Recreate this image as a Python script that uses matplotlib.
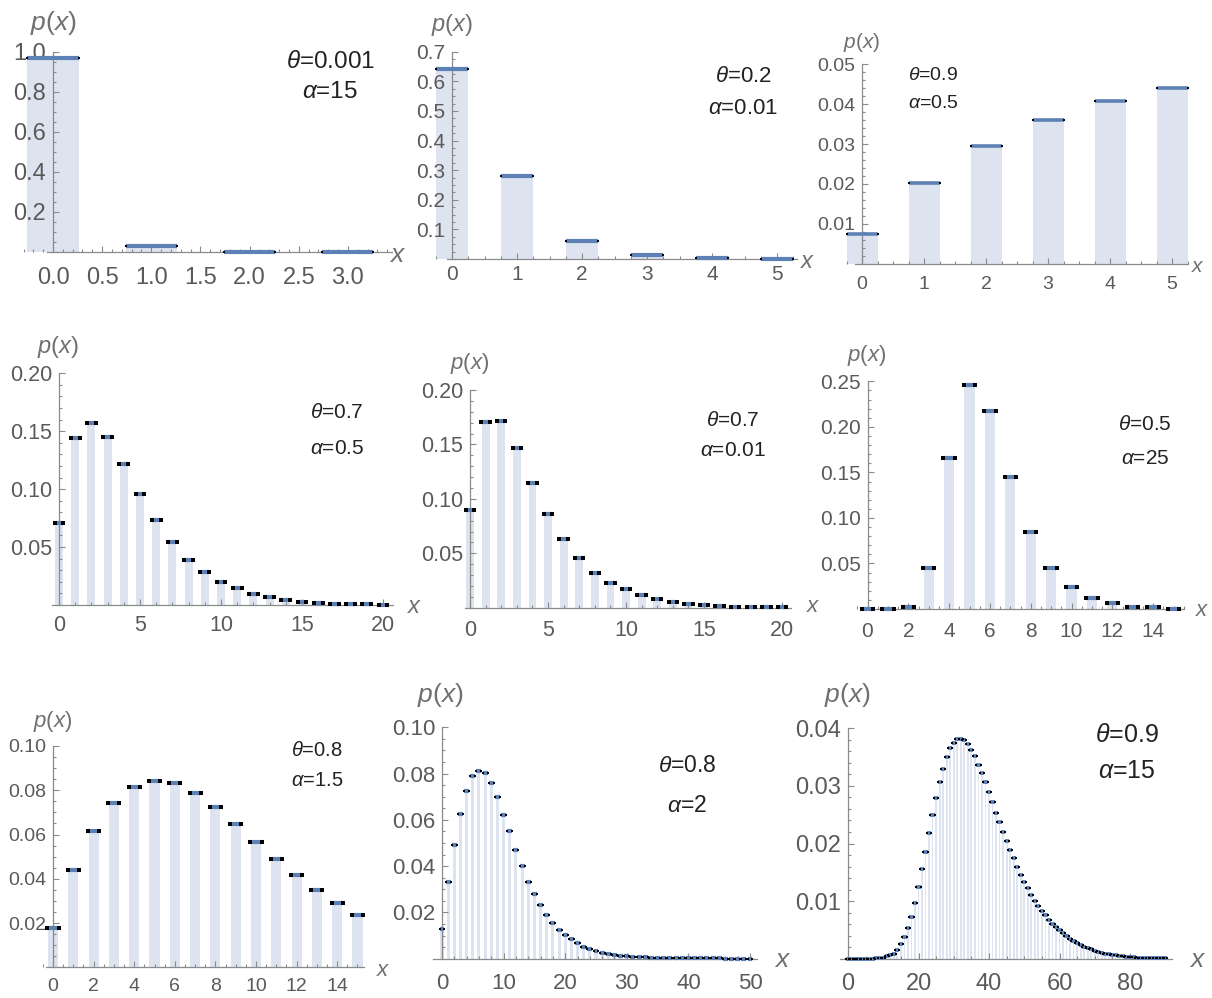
import numpy as np
import matplotlib
matplotlib.use('Agg')
import matplotlib.pyplot as plt
from matplotlib.ticker import FixedLocator, AutoMinorLocator, FormatStrFormatter

plt.rcParams['font.family'] = ['Liberation Sans', 'DejaVu Sans']
plt.rcParams['mathtext.fontset'] = 'custom'
plt.rcParams['mathtext.rm'] = 'Liberation Sans'
plt.rcParams['mathtext.it'] = 'Liberation Sans:italic'

# ---- data ----
p1_y = [0.968, 0.030, 0.0012, 0.0002]
p2_y = [0.642, 0.281, 0.062, 0.0125, 0.003, 0.001]
p3_y = [0.0075, 0.0203, 0.0294, 0.0360, 0.0408, 0.0439]
p4_y = [0.0705, 0.1439, 0.1574, 0.1447, 0.1217, 0.0961, 0.0731, 0.0547, 0.0391, 0.0282,
        0.0199, 0.0144, 0.0098, 0.0066, 0.0046, 0.0029, 0.0017, 0.0012, 0.0009, 0.0005, 0.0003]
p5_y = [0.0894, 0.1703, 0.1712, 0.1464, 0.1149, 0.0864, 0.0631, 0.0456, 0.0322, 0.0230,
        0.0168, 0.0113, 0.0077, 0.0055, 0.0034, 0.0025, 0.0014, 0.0011, 0.0007, 0.0006, 0.0005]
p6_y = [0.0002, 0.0002, 0.0026, 0.0454, 0.1662, 0.2463, 0.2174, 0.1453, 0.0846, 0.0454,
        0.0238, 0.0121, 0.0062, 0.0026, 0.0018, 0.0004]
p7_y = [0.0176, 0.0440, 0.0617, 0.0741, 0.0813, 0.0843, 0.0831, 0.0789, 0.0726, 0.0649,
        0.0568, 0.0489, 0.0417, 0.0349, 0.0291, 0.0238]
p8_y = [0.0130, 0.0333, 0.0493, 0.0627, 0.0726, 0.0789, 0.0811, 0.0801, 0.0761, 0.0697,
        0.0622, 0.0550, 0.0470, 0.0402, 0.0333, 0.0281, 0.0230, 0.0190, 0.0153, 0.0122,
        0.0101, 0.0084, 0.0066, 0.0052, 0.0042, 0.0032, 0.0026, 0.0020, 0.0016, 0.0013,
        0.0010, 0.0008, 0.0007, 0.0006, 0.0005, 0.0004, 0.0003, 0.0003, 0.0002, 0.0002,
        0.0002, 0.0001, 0.0001, 0.0001, 0.0001, 0.0001, 0.0, 0.0, 0.0, 0.0, 0.0]
p9_y = [0.0, 0.0, 0.0, 0.0, 0.0, 0.0, 0.0, 0.0, 0.0001, 0.0001,
        0.0002, 0.0004, 0.0006, 0.0009, 0.0015, 0.0025, 0.0037, 0.0054, 0.0072, 0.0097,
        0.0124, 0.0155, 0.0185, 0.0218, 0.0249, 0.0279, 0.0307, 0.0330, 0.0350, 0.0366,
        0.0375, 0.0381, 0.0382, 0.0380, 0.0373, 0.0363, 0.0352, 0.0337, 0.0323, 0.0306,
        0.0289, 0.0272, 0.0253, 0.0237, 0.0220, 0.0204, 0.0188, 0.0174, 0.0160, 0.0145,
        0.0133, 0.0122, 0.0111, 0.0101, 0.0091, 0.0083, 0.0076, 0.0068, 0.0061, 0.0055,
        0.0050, 0.0044, 0.0039, 0.0035, 0.0031, 0.0028, 0.0024, 0.0021, 0.0019, 0.0016,
        0.0014, 0.0012, 0.0010, 0.0009, 0.0008, 0.0006, 0.0006, 0.0005, 0.0004, 0.0003,
        0.0003, 0.0003, 0.0002, 0.0002, 0.0002, 0.0002, 0.0001, 0.0001, 0.0001, 0.0001, 0.0001]

thetas = ['0.001', '0.2', '0.9', '0.7', '0.7', '0.5', '0.8', '0.8', '0.9']
alphas = ['15', '0.01', '0.5', '0.5', '0.01', '25', '1.5', '2', '15']
series = [p1_y, p2_y, p3_y, p4_y, p5_y, p6_y, p7_y, p8_y, p9_y]

xticks = [[0, 0.5, 1, 1.5, 2, 2.5, 3], range(6), range(6), range(0, 21, 5), range(0, 21, 5),
          range(0, 15, 2), range(0, 15, 2), range(0, 51, 10), range(0, 81, 20)]
yticks = [[0.2, 0.4, 0.6, 0.8, 1.0], [0.1, 0.2, 0.3, 0.4, 0.5, 0.6, 0.7],
          [0.01, 0.02, 0.03, 0.04, 0.05], [0.05, 0.10, 0.15, 0.20], [0.05, 0.10, 0.15, 0.20],
          [0.05, 0.10, 0.15, 0.20, 0.25], [0.02, 0.04, 0.06, 0.08, 0.10],
          [0.02, 0.04, 0.06, 0.08, 0.10], [0.01, 0.02, 0.03, 0.04]]

# ---- layout (pixels of the 1212x998 image) ----
W, H = 1212, 998
layout = [
    dict(px0=53, sx=98.3, py0=252, sy=200, xlim=(-0.3, 3.45), ylim=(0, 1.0), ax0=-0.06, xfmt='%.1f', yfmt='%.1f',
         tfs=17, xpad=11, afs=17.5, th=(330, 62), al=(330, 92), pl=(53, 23), xl=(398, 255), lfs=19,
         w=0.52, cw=0.52, ms=2.0, clw=3.0, minx=5, miny=4),
    dict(px0=452, sx=65, py0=259, sy=296, xlim=(-0.3, 5.3), ylim=(0, 0.7), ax0=-0.08, xfmt='%d', yfmt='%.1f',
         tfs=15, xpad=4, afs=16, th=(743, 77), al=(743, 109), pl=(452, 25), xl=(808, 262), lfs=17,
         w=0.5, cw=0.5, ms=2.0, clw=3.0, minx=4, miny=4),
    dict(px0=862, sx=62, py0=264, sy=4000, xlim=(-0.3, 5.25), ylim=(0, 0.05), ax0=-0.11, xfmt='%d', yfmt='%.2f',
         tfs=14, xpad=8.5, afs=14, th=(933, 76), al=(933, 104), pl=(862, 43), xl=(1198, 267), lfs=15,
         w=0.5, cw=0.5, ms=2.0, clw=2.6, minx=4, miny=5),
    dict(px0=59, sx=16.2, py0=605, sy=1158.5, xlim=(-0.5, 20.6), ylim=(0, 0.2), ax0=-0.45, xfmt='%d', yfmt='%.2f',
         tfs=15.5, xpad=7, afs=15, th=(337, 412), al=(337, 448), pl=(58, 347), xl=(415, 607), lfs=17,
         w=0.5, cw=0.55, ms=2.2, clw=3.0, minx=5, miny=5),
    dict(px0=470, sx=15.6, py0=607.7, sy=1088.5, xlim=(-0.5, 20.6), ylim=(0, 0.2), ax0=-0.3, xfmt='%d', yfmt='%.2f',
         tfs=15.5, xpad=8.5, afs=15, th=(733, 420), al=(733, 450), pl=(470, 363), xl=(813, 607), lfs=16,
         w=0.5, cw=0.55, ms=2.2, clw=3.0, minx=5, miny=5),
    dict(px0=867.5, sx=20.4, py0=609, sy=910.7, xlim=(-0.5, 15.5), ylim=(0, 0.25), ax0=-0.27, xfmt='%d', yfmt='%.2f',
         tfs=15, xpad=9.5, afs=15, th=(1145, 425), al=(1145, 458), pl=(867, 355), xl=(1202, 610), lfs=16,
         w=0.5, cw=0.55, ms=2.2, clw=3.0, minx=4, miny=5),
    dict(px0=53, sx=20.3, py0=967.3, sy=2213, xlim=(-0.5, 15.3), ylim=(0, 0.1), ax0=-0.34, xfmt='%d', yfmt='%.2f',
         tfs=14, xpad=7.5, afs=14.5, th=(317, 751), al=(317, 781), pl=(53, 722), xl=(383, 970), lfs=16,
         w=0.5, cw=0.55, ms=2.2, clw=3.0, minx=4, miny=4),
    dict(px0=442, sx=6.16, py0=958.7, sy=2314, xlim=(-1.5, 51.2), ylim=(0, 0.1), ax0=-1.5, xfmt='%d', yfmt='%.2f',
         tfs=16, xpad=10.5, afs=16.5, th=(687, 765), al=(687, 805), pl=(440, 695), xl=(783, 960), lfs=19,
         w=0.5, cw=0.8, ms=2.0, clw=3.0, minx=5, miny=4),
    dict(px0=848, sx=3.525, py0=958.7, sy=5760, xlim=(-2.2, 91.8), ylim=(0, 0.04), ax0=-2.2, xfmt='%d', yfmt='%.2f',
         tfs=17, xpad=10, afs=18, th=(1127, 735), al=(1127, 771), pl=(847, 695), xl=(1198, 960), lfs=19,
         w=0.5, cw=1.2, ms=1.7, clw=2.8, minx=4, miny=5),
]

bar_color = '#dde4f0'
cap_color = '#5e81b5'
axis_color = '#8a8a8a'
label_color = '#5a5a5a'


def fx(px):
    return px / W


def fy(py):
    return 1 - py / H


fig = plt.figure(figsize=(W / 100, H / 100), dpi=100)

for i, (vals, L) in enumerate(zip(series, layout)):
    x = np.arange(len(vals))
    y = np.array(vals)
    left = L['px0'] + L['sx'] * L['xlim'][0]
    right = L['px0'] + L['sx'] * L['xlim'][1]
    top = L['py0'] - L['sy'] * L['ylim'][1]
    bottom = L['py0'] - L['sy'] * L['ylim'][0]
    ax = fig.add_axes([left / W, 1 - bottom / H, (right - left) / W, (bottom - top) / H])
    ax.patch.set_alpha(0)

    hw = L['cw'] / 2
    ax.bar(x, y, width=L['w'], color=bar_color, zorder=1, clip_on=False)
    ax.hlines(y, x - hw, x + hw, color=cap_color, lw=L['clw'], zorder=3, clip_on=False)
    ax.plot(np.r_[x - hw, x + hw], np.r_[y, y], 's', color='black', ms=L['ms'], mew=0,
            zorder=4, clip_on=False)

    ax.set_xlim(*L['xlim'])
    ax.set_ylim(*L['ylim'])
    for s in ['top', 'right']:
        ax.spines[s].set_visible(False)
    ax.spines['left'].set_position(('data', 0))
    ax.spines['bottom'].set_position(('data', 0))
    ax.spines['bottom'].set_bounds(L['ax0'], L['xlim'][1])
    for s in ['left', 'bottom']:
        ax.spines[s].set_color(axis_color)
        ax.spines[s].set_linewidth(0.9)
        ax.spines[s].set_zorder(2)

    ax.xaxis.set_major_locator(FixedLocator(list(xticks[i])))
    ax.yaxis.set_major_locator(FixedLocator(yticks[i]))
    ax.xaxis.set_major_formatter(FormatStrFormatter(L['xfmt']))
    ax.yaxis.set_major_formatter(FormatStrFormatter(L['yfmt']))
    ax.xaxis.set_minor_locator(AutoMinorLocator(L['minx']))
    ax.yaxis.set_minor_locator(AutoMinorLocator(L['miny']))
    ax.tick_params(which='both', direction='in', color=axis_color, width=0.8,
                   labelcolor=label_color, labelsize=L['tfs'])
    ax.tick_params(which='major', length=4)
    ax.tick_params(which='minor', length=2)
    ax.tick_params(axis='x', pad=L['xpad'])
    ax.tick_params(axis='y', pad=5)

    fig.text(fx(L['th'][0]), fy(L['th'][1]), r'$\theta$=' + thetas[i], fontsize=L['afs'],
             color='#222222', ha='center', va='center')
    fig.text(fx(L['al'][0]), fy(L['al'][1]), r'$\alpha$=' + alphas[i], fontsize=L['afs'],
             color='#222222', ha='center', va='center')
    fig.text(fx(L['pl'][0]), fy(L['pl'][1]), r'$p(x)$', fontsize=L['lfs'],
             color='#707070', ha='center', va='center')
    fig.text(fx(L['xl'][0]), fy(L['xl'][1]), r'$x$', fontsize=L['lfs'],
             color='#707070', ha='center', va='center')

fig.savefig('out.png', dpi=100)
